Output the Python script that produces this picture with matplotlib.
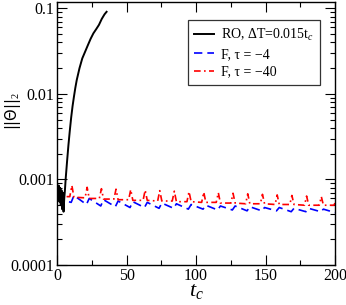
import matplotlib
matplotlib.use("Agg")
import matplotlib.pyplot as plt
from matplotlib.ticker import LogLocator, MultipleLocator, FixedLocator, FixedFormatter, NullFormatter

plt.rcParams["font.family"] = ["Liberation Serif", "DejaVu Serif"]
plt.rcParams["mathtext.fontset"] = "custom"
plt.rcParams["mathtext.rm"] = "Liberation Serif"
plt.rcParams["mathtext.it"] = "Liberation Serif:italic"

# ---- data ----
ro_t = [0, 0.5, 1, 1.5, 2, 2.5, 3, 3.5, 4, 4.5, 5, 5.5, 6, 7, 8, 9, 10, 11, 12, 13, 14,
        16, 18, 20, 22, 24, 26, 28, 30, 32, 34, 35.5]
ro_v = [0.00080, 0.00060, 0.00085, 0.00055, 0.00080, 0.00050, 0.00075, 0.00045, 0.00070,
        0.00042, 0.00060, 0.00075, 0.0010, 0.0016, 0.0025, 0.0037, 0.0053, 0.0072, 0.0093,
        0.0118, 0.0145, 0.020, 0.026, 0.031, 0.037, 0.044, 0.051, 0.057, 0.064, 0.075,
        0.085, 0.091]

f4_t = [0, 1, 2, 3, 4, 6,
        10.0, 12.0, 21.0, 23.0, 31.3, 33.3, 41.8, 43.8, 52.4, 54.4, 62.8, 64.8,
        73.3, 75.3, 83.8, 85.8, 94.4, 96.4, 105.0, 107.0, 115.5, 117.5, 126.1, 128.1,
        136.7, 138.7, 147.3, 149.3, 157.9, 159.9, 168.5, 170.5, 179.1, 181.1,
        189.7, 191.7, 200]
f4_v = [0.00085, 0.00070, 0.00058, 0.00062, 0.00058, 0.00056,
        0.00054, 0.00065, 0.00051, 0.00060, 0.00049, 0.00058, 0.00048, 0.00056,
        0.00047, 0.00055, 0.00047, 0.00054, 0.00046, 0.00053, 0.00046, 0.00052,
        0.00045, 0.00051, 0.00045, 0.00050, 0.00044, 0.00049, 0.00044, 0.00049,
        0.00043, 0.00048, 0.00043, 0.00047, 0.00043, 0.00047, 0.00042, 0.00046,
        0.00042, 0.00046, 0.00042, 0.00045, 0.00041]

f40_t = [0, 1, 2, 3,
         9.0, 10.5, 12.0, 20.0, 21.5, 23.0, 30.3, 31.8, 33.3, 40.8, 42.3, 43.8,
         51.4, 52.9, 54.4, 61.8, 63.3, 64.8, 72.3, 73.8, 75.3, 82.8, 84.3, 85.8,
         93.4, 94.9, 96.4, 104.0, 105.5, 107.0, 114.5, 116.0, 117.5, 125.1, 126.6, 128.1,
         135.7, 137.2, 138.7, 146.3, 147.8, 149.3, 156.9, 158.4, 159.9,
         167.5, 169.0, 170.5, 178.1, 179.6, 181.1, 188.7, 190.2, 191.7, 199.3, 200]
f40_v = [0.00080, 0.00072, 0.00066, 0.00063,
         0.00063, 0.00085, 0.00062, 0.00061, 0.00081, 0.00060, 0.00060, 0.00078, 0.00059,
         0.00059, 0.00077, 0.00058, 0.00058, 0.00076, 0.00057, 0.00057, 0.00075, 0.00057,
         0.00056, 0.00074, 0.00056, 0.00056, 0.00073, 0.00055, 0.00055, 0.00072, 0.00055,
         0.00054, 0.00071, 0.00054, 0.00054, 0.00070, 0.00053, 0.00053, 0.00069, 0.00053,
         0.00052, 0.00068, 0.00052, 0.00052, 0.00067, 0.00052, 0.00051, 0.00066, 0.00051,
         0.00051, 0.00065, 0.00051, 0.00050, 0.00064, 0.00050, 0.00050, 0.00063, 0.00050,
         0.00050, 0.00053]

labels = ["RO, \u0394T=0.015t$_c$", "F, \u03c4 = \u22124", "F, \u03c4 = \u221240"]
y_ticks = [0.0001, 0.001, 0.01, 0.1]
y_tick_labels = ["0.0001", "0.001", "0.01", "0.1"]

fig = plt.figure(figsize=(3.46, 3.05), dpi=100)
ax = fig.add_axes([0.1656, 0.131, 0.8024, 0.864])

ax.plot(f4_t, f4_v, color="#0000ff", lw=1.2, ls=(0, (5, 3)), label=labels[1], zorder=2)
ax.plot(f40_t, f40_v, color="#ff0000", lw=1.2, ls=(0, (4, 2, 1, 2)), label=labels[2], zorder=2)
ax.plot(ro_t, ro_v, color="black", lw=1.4, label=labels[0], zorder=3)

ax.set_yscale("log")
ax.set_xlim(0, 200)
ax.set_ylim(0.0001, 0.12)

ax.xaxis.set_major_locator(MultipleLocator(50))
ax.xaxis.set_minor_locator(MultipleLocator(25))
ax.yaxis.set_major_locator(FixedLocator(y_ticks))
ax.yaxis.set_major_formatter(FixedFormatter(y_tick_labels))
ax.yaxis.set_minor_locator(LogLocator(base=10, subs=range(2, 10), numticks=20))
ax.yaxis.set_minor_formatter(NullFormatter())

ax.tick_params(which="both", direction="in", top=True, right=True, width=0.8)
ax.tick_params(which="major", length=7)
ax.tick_params(which="minor", length=3.5)
ax.tick_params(axis="both", labelsize=11.5, pad=2)

for s in ax.spines.values():
    s.set_linewidth(1.0)

ax.set_xlabel("$t_c$", fontsize=16, labelpad=-1)
ax.set_ylabel("||\u0398||$_2$", fontsize=10.5, family="DejaVu Sans")
ax.yaxis.set_label_coords(-0.125, 0.585)

handles, labs = ax.get_legend_handles_labels()
order = [2, 0, 1]
leg = ax.legend([handles[i] for i in order], [labs[i] for i in order],
                loc="upper right", bbox_to_anchor=(0.946, 0.928),
                prop={"size": 10}, frameon=True, fancybox=False,
                edgecolor="black", handlelength=1.4, handletextpad=0.5,
                borderpad=0.45, labelspacing=0.35, borderaxespad=0)
leg.get_frame().set_linewidth(0.9)

fig.savefig("out.png", dpi=100)
